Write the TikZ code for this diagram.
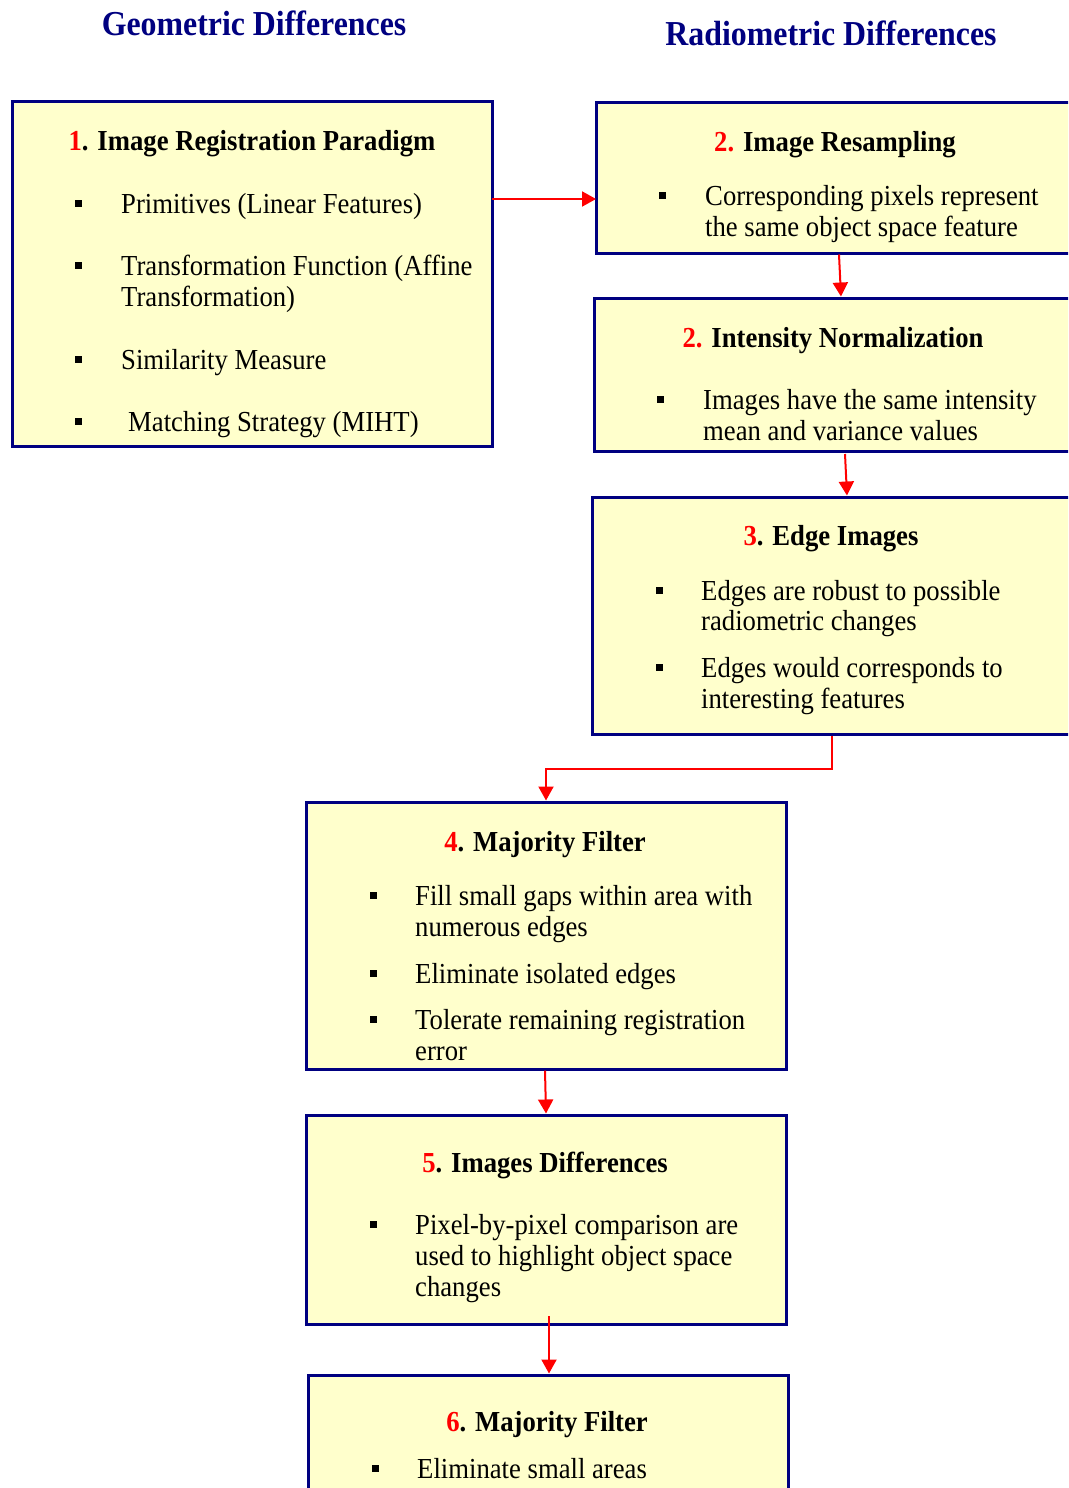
\documentclass[tikz,border=0pt]{standalone}
\usepackage{fontspec}
\setmainfont{Liberation Serif}
\newfontfamily\bodyf[FakeStretch=0.92]{Liberation Serif}
\newfontfamily\titlef[FakeStretch=0.91]{Liberation Serif}
\usetikzlibrary{arrows.meta,calc}
\definecolor{navy}{RGB}{0,0,128}
\definecolor{boxfill}{RGB}{255,255,204}
\definecolor{numred}{RGB}{255,0,0}
\newcommand{\rn}[1]{\textcolor{numred}{#1}}
\begin{document}
\begin{tikzpicture}[x=1pt,y=-1pt,
  box/.style={draw=navy,fill=boxfill,line width=3pt,inner sep=0pt,outer sep=0pt,anchor=north west},
  head/.style={anchor=base,inner sep=0pt,yshift=-1pt,font=\bodyf\fontsize{29}{31}\selectfont\bfseries},
  txt/.style={anchor=base west,inner sep=0pt,yshift=-1pt,font=\bodyf\fontsize{29}{31}\selectfont},
  ttl/.style={anchor=base,inner sep=0pt,text=navy,font=\titlef\fontsize{35}{38}\selectfont\bfseries},
  bul/.style={fill=black,inner sep=0pt,minimum size=7pt,outer sep=0pt},
  arr/.style={draw=numred,line width=2pt,-{Triangle[length=14pt,width=15pt]}}]
\useasboundingbox (0,0) rectangle (1068,1488);
\clip (0,0) rectangle (1068,1488);
\fill[white] (0,0) rectangle (1068,1488);

% titles
\node[ttl] (tg) at (254,36) {Geometric Differences};
\node[ttl] (tr) at (831,46) {Radiometric Differences};

% boxes
\node[box,minimum width=480pt,minimum height=345pt] (b1) at (12,101) {};
\node[box,minimum width=490pt,minimum height=151pt] (b2) at (596,102) {};
\node[box,minimum width=492pt,minimum height=153pt] (i2) at (594,298) {};
\node[box,minimum width=494pt,minimum height=237pt] (b3) at (592,497) {};
\node[box,minimum width=480pt,minimum height=267pt] (b4) at (306,802) {};
\node[box,minimum width=480pt,minimum height=209pt] (b5) at (306,1115) {};
\node[box,minimum width=480pt,minimum height=130pt] (b6) at (308,1375) {};

% box 1
\node[head] (h1) at (252,149) {\rn{1}. Image Registration Paradigm};
\node[bul] (u1a) at (78,203) {};
\node[txt] (t1a) at (121,212) {Primitives (Linear Features)};
\node[bul] (u1b) at (78,265) {};
\node[txt] (t1b) at (121,274) {Transformation Function (Affine};
\node[txt] (t1c) at (121,305) {Transformation)};
\node[bul] (u1c) at (78,359) {};
\node[txt] (t1d) at (121,368) {Similarity Measure};
\node[bul] (u1d) at (78,421) {};
\node[txt] (t1e) at (128,430) {Matching Strategy (MIHT)};

% box 2
\node[head] (h2) at (835,150) {\rn{2.} Image Resampling};
\node[bul] (u2a) at (662,195) {};
\node[txt] (t2a) at (705,204) {Corresponding pixels represent};
\node[txt] (t2b) at (705,235) {the same object space feature};

% intensity
\node[head] (hi) at (833,346) {\rn{2.} Intensity Normalization};
\node[bul] (uia) at (660,399) {};
\node[txt] (tia) at (703,408) {Images have the same intensity};
\node[txt] (tib) at (703,439) {mean and variance values};

% box 3
\node[head] (h3) at (831,544) {\rn{3}. Edge Images};
\node[bul] (u3a) at (659,590) {};
\node[txt] (t3a) at (701,599) {Edges are robust to possible};
\node[txt] (t3b) at (701,629) {radiometric changes};
\node[bul] (u3b) at (659,667) {};
\node[txt] (t3c) at (701,676) {Edges would corresponds to};
\node[txt] (t3d) at (701,707) {interesting features};

% box 4
\node[head] (h4) at (545,850) {\rn{4}. Majority Filter};
\node[bul] (u4a) at (373,895) {};
\node[txt] (t4a) at (415,904) {Fill small gaps within area with};
\node[txt] (t4b) at (415,935) {numerous edges};
\node[bul] (u4b) at (373,973) {};
\node[txt] (t4c) at (415,982) {Eliminate isolated edges};
\node[bul] (u4c) at (373,1019) {};
\node[txt] (t4d) at (415,1028) {Tolerate remaining registration};
\node[txt] (t4e) at (415,1059) {error};

% box 5
\node[head] (h5) at (545,1171) {\rn{5}. Images Differences};
\node[bul] (u5a) at (373,1224) {};
\node[txt] (t5a) at (415,1233) {Pixel-by-pixel comparison are};
\node[txt] (t5b) at (415,1264) {used to highlight object space};
\node[txt] (t5c) at (415,1295) {changes};

% box 6
\node[head] (h6) at (547,1430) {\rn{6}. Majority Filter};
\node[bul] (u6a) at (375,1468) {};
\node[txt] (t6a) at (417,1477) {Eliminate small areas};

% connectors
\draw[arr] (b1.east |- 0,199) -- (b2.west |- 0,199);
\draw[arr] ($(b2.south west)+(243,1.5)$) -- ($(i2.north west)+(247,-1.5)$);
\draw[arr] ($(i2.south west)+(251,3)$) -- ($(b3.north west)+(255,-1.5)$);
\draw[arr] ($(b3.south west)+(240,1.5)$) -- ++(0,33) -| ($(b4.north)+(0,-1.5)$);
\draw[arr] ($(b4.south)+(-1,1.5)$) -- ($(b5.north)+(0,-1.5)$);
\draw[arr] ($(b6.north)+(1,-59)$) -- ($(b6.north)+(1,-1.5)$);
\end{tikzpicture}
\end{document}
